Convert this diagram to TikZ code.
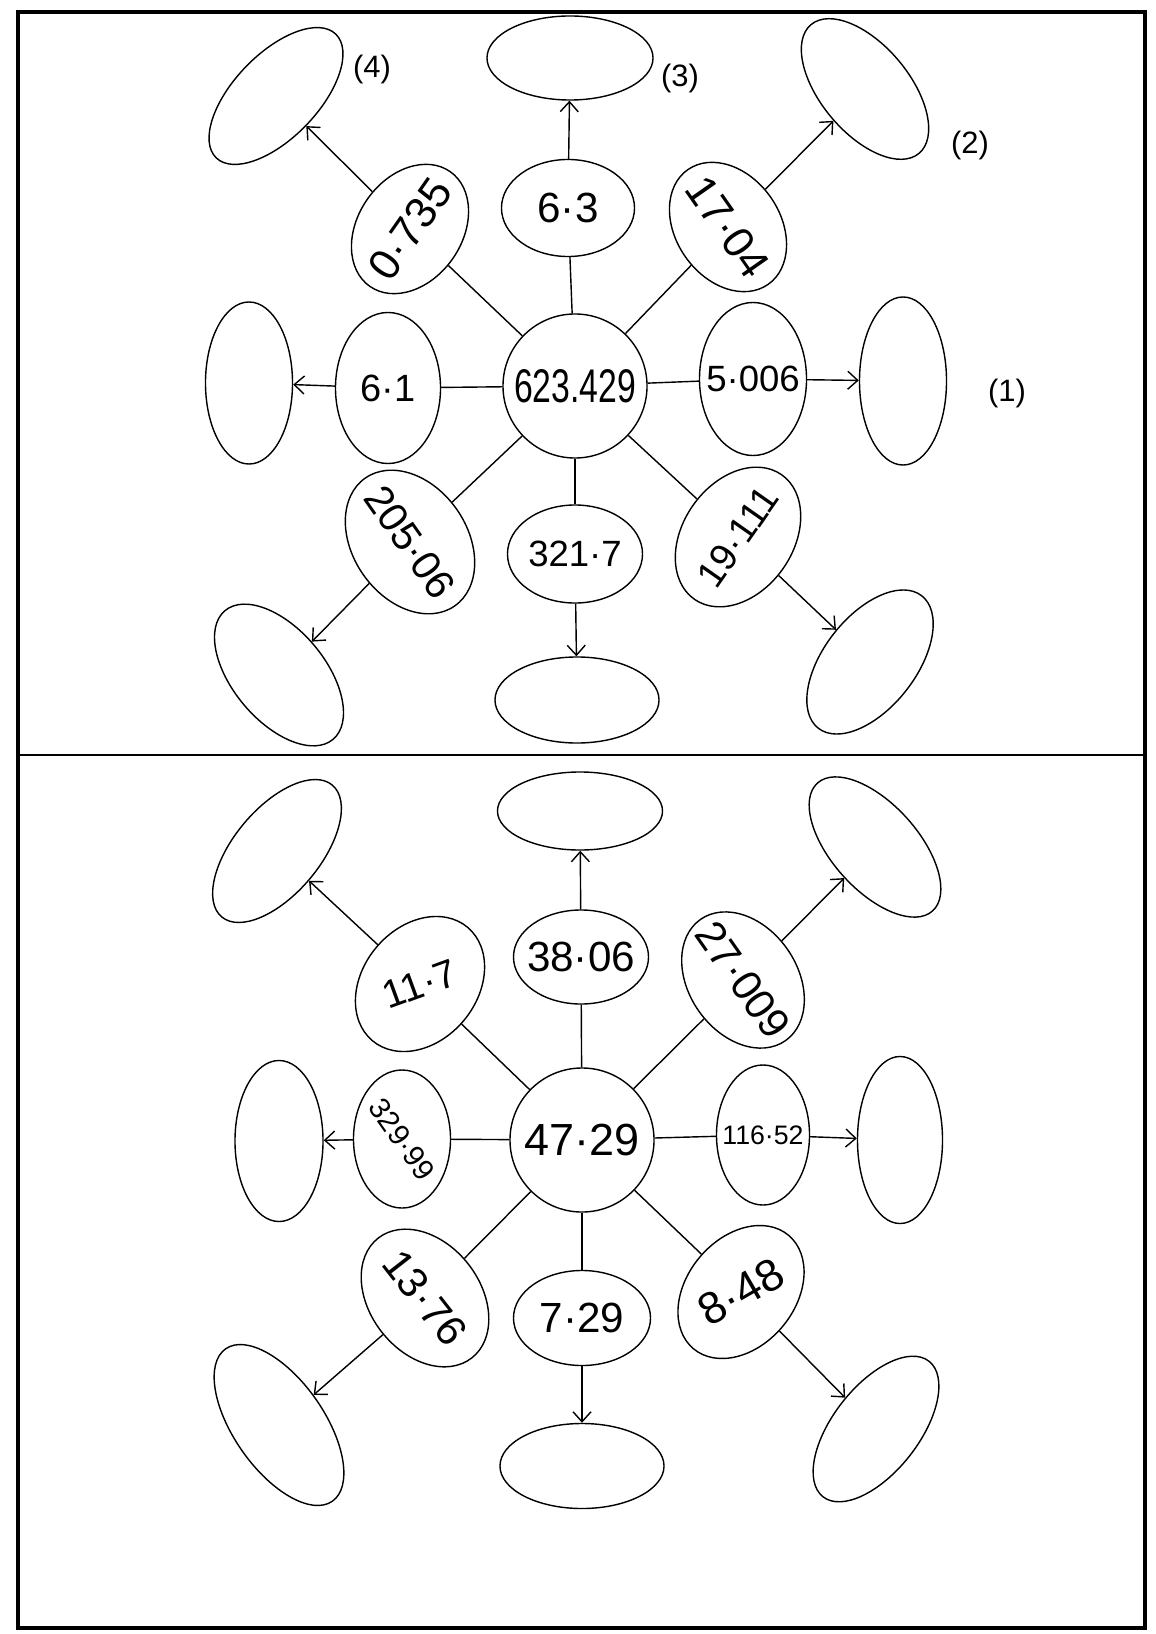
\documentclass[tikz,border=0pt]{standalone}
\usepackage{fontspec}
\setmainfont{Liberation Sans}
\usepackage{graphicx}
\usetikzlibrary{shapes.geometric,arrows.meta}
\newcommand{\fsz}[1]{\fontsize{#1}{#1}\selectfont}
\newcommand{\numtxt}[1]{\makebox[0pt]{#1}}

\begin{document}
\begin{tikzpicture}[x=0.025cm,y=-0.025cm,line width=1pt,>={Straight Barb[length=2.5mm,width=4.5mm]}]
  \tikzstyle{hub}=[circle,draw,inner sep=0pt,minimum size=3.6cm]
  \tikzstyle{val}=[ellipse,draw,inner sep=0pt]
  \tikzstyle{blank}=[ellipse,draw,inner sep=0pt]
  \tikzstyle{tag}=[inner sep=0pt,font=\fsz{22}]
  \useasboundingbox (0,0) rectangle (1155,1634);
  \draw[line width=2.5pt] (18,12) rectangle (1145,1628);
  \draw[line width=2pt] (18,755) -- (1145,755);

  % upper star
  \node[hub,font=\fsz{24}] (c1) at (575,386) {\numtxt{\scalebox{1}[1.4]{623.429}}};
  \node[val,minimum width=3.325cm,minimum height=2.425cm,font=\fsz{30}] (n1) at (568,208) {\numtxt{6·3}};
  \node[val,minimum width=3.5cm,minimum height=2.6cm,rotate=55,font=\fsz{31}] (nw1) at (410,229) {\numtxt{0·735}};
  \node[val,minimum width=3.5cm,minimum height=2.6cm,rotate=-55,font=\fsz{31}] (ne1) at (728,227) {\numtxt{17·04}};
  \node[val,minimum width=2.625cm,minimum height=3.775cm,font=\fsz{27}] (w1) at (388,388) {\numtxt{6·1}};
  \node[val,minimum width=2.675cm,minimum height=3.825cm,font=\fsz{26}] (e1) at (753,379) {\numtxt{5·006}};
  \node[val,minimum width=3.9cm,minimum height=2.85cm,rotate=-55,font=\fsz{29}] (sw1) at (410,542) {\numtxt{205·06}};
  \node[val,minimum width=3.375cm,minimum height=2.45cm,font=\fsz{26}] (s1) at (575,554) {\numtxt{321·7}};
  \node[val,minimum width=3.8cm,minimum height=2.75cm,rotate=55,font=\fsz{27}] (se1) at (738,537) {\numtxt{19·111}};

  \node[blank,minimum width=4.15cm,minimum height=2.1cm] (o1n) at (570,58) {};
  \node[blank,minimum width=4.3cm,minimum height=2.1cm,rotate=46] (o1nw) at (276,96) {};
  \node[blank,minimum width=4.2cm,minimum height=2.2cm,rotate=-50] (o1ne) at (865,89) {};
  \node[blank,minimum width=2.175cm,minimum height=4.05cm] (o1w) at (249,383) {};
  \node[blank,minimum width=2.175cm,minimum height=4.2cm] (o1e) at (903,381) {};
  \node[blank,minimum width=4.2cm,minimum height=2.3cm,rotate=-50] (o1sw) at (279,675) {};
  \node[blank,minimum width=4.1cm,minimum height=2.15cm] (o1s) at (577,700) {};
  \node[blank,minimum width=4.2cm,minimum height=2.3cm,rotate=52] (o1se) at (870,662) {};

  \node[tag] (l4) at (372,70) {(4)};
  \node[tag] (l3) at (680,78) {(3)};
  \node[tag] (l2) at (970,145) {(2)};
  \node[tag] (l1) at (1007,393) {(1)};

  \draw (c1) -- (n1);
  \draw (c1) -- (nw1);
  \draw (c1) -- (ne1);
  \draw (c1) -- (w1);
  \draw (c1) -- (e1);
  \draw (c1) -- (sw1);
  \draw (c1) -- (s1);
  \draw (c1) -- (se1);
  \draw[->] (n1) -- (o1n);
  \draw[->] (nw1) -- (o1nw);
  \draw[->] (ne1) -- (o1ne);
  \draw[->] (w1) -- (o1w);
  \draw[->] (e1) -- (o1e);
  \draw[->] (sw1) -- (o1sw);
  \draw[->] (s1) -- (o1s);
  \draw[->] (se1) -- (o1se);

  % lower star
  \node[hub,font=\fsz{32}] (c2) at (582,1140) {\numtxt{47·29}};
  \node[val,minimum width=3.375cm,minimum height=2.35cm,font=\fsz{30}] (n2) at (581,957) {\numtxt{38·06}};
  \node[val,minimum width=3.7cm,minimum height=2.85cm,rotate=50,font=\fsz{28}] (nw2) at (420,984) {\numtxt{\rotatebox{-30}{11·7}}};
  \node[val,minimum width=3.7cm,minimum height=2.7cm,rotate=-55,font=\fsz{30}] (ne2) at (743,980) {\numtxt{27·009}};
  \node[val,minimum width=2.425cm,minimum height=3.45cm,font=\fsz{21}] (w2) at (402,1139) {\numtxt{\rotatebox{-55}{329·99}}};
  \node[val,minimum width=2.325cm,minimum height=3.5cm,font=\fsz{19}] (e2) at (763,1135) {\numtxt{116·52}};
  \node[val,minimum width=3.8cm,minimum height=2.75cm,rotate=-52,font=\fsz{30}] (sw2) at (425,1298) {\numtxt{13·76}};
  \node[val,minimum width=3.425cm,minimum height=2.375cm,font=\fsz{30}] (s2) at (582,1318) {\numtxt{7·29}};
  \node[val,minimum width=3.7cm,minimum height=2.7cm,rotate=50,font=\fsz{32}] (se2) at (741,1292) {\numtxt{\rotatebox{-20}{8·48}}};

  \node[blank,minimum width=4.125cm,minimum height=1.95cm] (o2n) at (580,811) {};
  \node[blank,minimum width=4.3cm,minimum height=2.15cm,rotate=50] (o2nw) at (277,851) {};
  \node[blank,minimum width=4.3cm,minimum height=2.15cm,rotate=-48] (o2ne) at (875,847) {};
  \node[blank,minimum width=2.2cm,minimum height=4.025cm] (o2w) at (279,1141) {};
  \node[blank,minimum width=2.125cm,minimum height=4.175cm] (o2e) at (900,1140) {};
  \node[blank,minimum width=4.65cm,minimum height=2.25cm,rotate=-55] (o2sw) at (279,1425) {};
  \node[blank,minimum width=4.1cm,minimum height=2.125cm] (o2s) at (582,1466) {};
  \node[blank,minimum width=4.3cm,minimum height=2.15cm,rotate=52] (o2se) at (876,1429) {};

  \draw (c2) -- (n2);
  \draw (c2) -- (nw2);
  \draw (c2) -- (ne2);
  \draw (c2) -- (w2);
  \draw (c2) -- (e2);
  \draw (c2) -- (sw2);
  \draw (c2) -- (s2);
  \draw (c2) -- (se2);
  \draw[->] (n2) -- (o2n);
  \draw[->] (nw2) -- (o2nw);
  \draw[->] (ne2) -- (o2ne);
  \draw[->] (w2) -- (o2w);
  \draw[->] (e2) -- (o2e);
  \draw[->] (sw2) -- (o2sw);
  \draw[->] (s2) -- (o2s);
  \draw[->] (se2) -- (o2se);
\end{tikzpicture}
\end{document}
